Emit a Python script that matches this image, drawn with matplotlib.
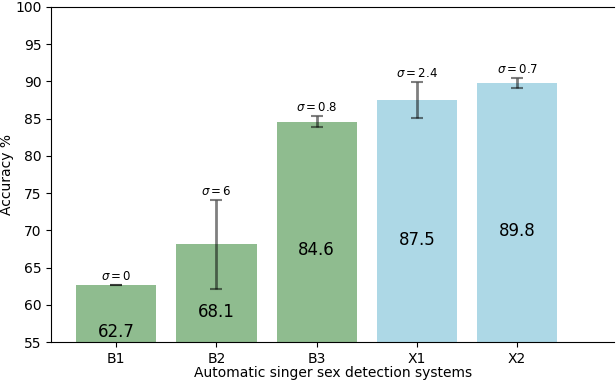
import numpy as np
import matplotlib
matplotlib.use("Agg")
import matplotlib.pyplot as plt

systems = ["B1", "B2", "B3", "X1", "X2"]
accuracy = [62.7, 68.1, 84.6, 87.5, 89.8]
sigma = [0, 6, 0.8, 2.4, 0.7]
sigma_labels = ["0", "6", "0.8", "2.4", "0.7"]
colors = ["darkseagreen", "darkseagreen", "darkseagreen", "lightblue", "lightblue"]

fig = plt.figure(figsize=(6.16, 3.8), dpi=100)
ax = fig.add_axes([0.083, 0.1, 0.914, 0.882])

x = np.arange(len(systems))
ax.bar(x, accuracy, width=0.8, color=colors, yerr=sigma, capsize=4,
       error_kw=dict(ecolor="black", alpha=0.5, elinewidth=2, capthick=1.5))

# value labels inside bars and sigma above error bars
for i in range(len(systems)):
    ax.text(x[i], (accuracy[i] + 50) / 2, f"{accuracy[i]}", ha="center", va="center", fontsize=12)
    ax.text(x[i], accuracy[i] + sigma[i] + 1.1, r"$\sigma = $" + sigma_labels[i],
            ha="center", va="center", fontsize=8.5)

ax.set_ylim(55, 100)
ax.set_xlim(-0.65, 4.97)
ax.set_xticks(x)
ax.set_xticklabels(systems)
ax.set_yticks(np.arange(55, 101, 5))
ax.set_xlabel("Automatic singer sex detection systems", labelpad=0)
ax.set_ylabel("Accuracy %", labelpad=1)
ax.spines["right"].set_visible(False)

fig.savefig("out.png", dpi=100)
